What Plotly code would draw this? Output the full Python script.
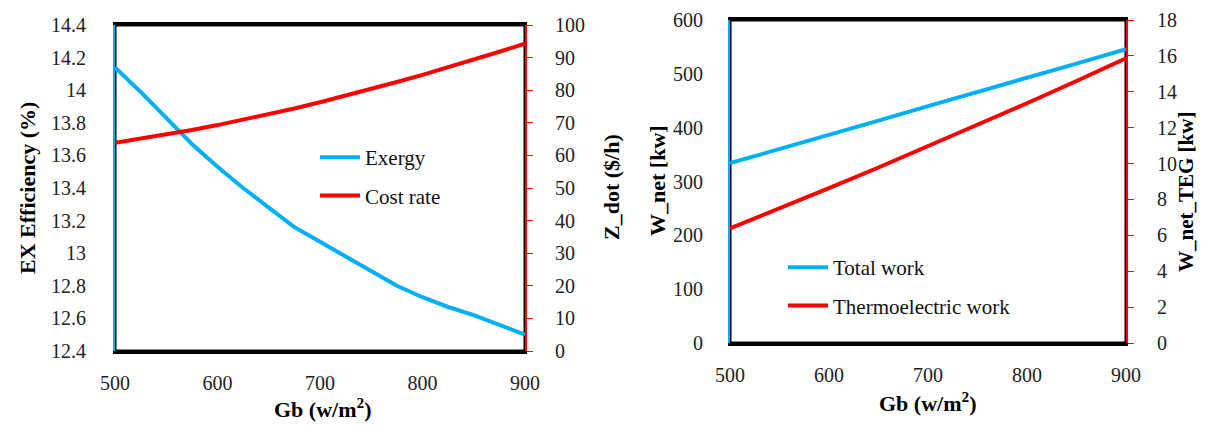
import plotly.graph_objects as go

# ---- data ----
gb = [500, 525, 550, 575, 600, 625, 650, 675, 700, 725, 750, 775, 800, 825, 850, 875, 900]
exergy = [14.14, 13.99, 13.83, 13.67, 13.53, 13.40, 13.28, 13.16, 13.07, 12.98, 12.89, 12.80,
          12.73, 12.67, 12.62, 12.56, 12.50]
cost_rate = [63.9, 65.1, 66.4, 67.8, 69.3, 70.9, 72.6, 74.4, 76.3, 78.3, 80.4, 82.5,
             84.7, 87.0, 89.3, 91.8, 94.3]

gb2 = [500, 550, 600, 650, 700, 750, 800, 850, 900]
total_work = [334, 360, 387, 413, 440, 466, 493, 519, 546]
teg_work = [6.39, 7.50, 8.63, 9.78, 10.96, 12.14, 13.36, 14.60, 15.87]

# page offset (default body margin) and figure size
OFF = 8
W, H = 1206 - OFF, 430 - OFF
BLUE = "#00B0F0"
RED = "#FF0000"
FONT = "Liberation Serif"

def fx(x):
    return (x - OFF) / W

def fy(y):
    return 1 - (y - OFF) / H

def px_x(a, b):
    return [fx(a), fx(b)]

def px_y(top, bottom):
    return [fy(bottom), fy(top)]

fig = go.Figure()
fig.add_trace(go.Scatter(x=gb, y=exergy, name="Exergy", mode="lines",
                         line=dict(color=BLUE, width=4), xaxis="x", yaxis="y",
                         legend="legend", legendgroup="a"))
fig.add_trace(go.Scatter(x=gb, y=cost_rate, name="Cost rate", mode="lines",
                         line=dict(color=RED, width=4), xaxis="x", yaxis="y2",
                         legend="legend", legendgroup="b"))
fig.add_trace(go.Scatter(x=gb2, y=total_work, name="Total work", mode="lines",
                         line=dict(color=BLUE, width=4), xaxis="x2", yaxis="y3",
                         legend="legend2", legendgroup="c"))
fig.add_trace(go.Scatter(x=gb2, y=teg_work, name="Thermoelectric work", mode="lines",
                         line=dict(color=RED, width=4), xaxis="x2", yaxis="y4",
                         legend="legend2", legendgroup="d"))

tickfont = dict(family=FONT, size=20, color="#222")
xcommon = dict(range=[500, 900], dtick=100, showgrid=False, zeroline=False,
               showline=True, linecolor="black", linewidth=3, mirror=True,
               ticks="", tickfont=tickfont, ticklabelstandoff=12, automargin=False)

fig.update_layout(
    template="none",
    font=dict(family=FONT, size=20, color="#222"),
    width=W, height=H, margin=dict(l=0, r=0, t=0, b=0, pad=0, autoexpand=False),
    paper_bgcolor="white", plot_bgcolor="white",
    showlegend=True,
    xaxis=dict(domain=px_x(115, 525), anchor="y", **xcommon),
    yaxis=dict(domain=px_y(25, 351), anchor="x", range=[12.4, 14.4], dtick=0.2,
               showgrid=False, zeroline=False, showline=True, linecolor=BLUE, linewidth=2,
               ticks="", tickfont=tickfont, ticklabelstandoff=23, automargin=False),
    yaxis2=dict(overlaying="y", anchor="x", side="right", range=[0, 100], dtick=10,
                showgrid=False, zeroline=False, showline=True, linecolor=RED, linewidth=2,
                ticks="outside", ticklen=6, tickcolor=RED, tickwidth=1,
                tickfont=tickfont, ticklabelstandoff=18, automargin=False),
    xaxis2=dict(domain=px_x(730, 1126), anchor="y3", **xcommon),
    yaxis3=dict(domain=px_y(20, 343), anchor="x2", range=[0, 600], dtick=100,
                showgrid=False, zeroline=False, showline=True, linecolor=BLUE, linewidth=2,
                ticks="", tickfont=tickfont, ticklabelstandoff=21, automargin=False),
    yaxis4=dict(overlaying="y3", anchor="x2", side="right", range=[0, 18], dtick=2,
                showgrid=False, zeroline=False, showline=True, linecolor=RED, linewidth=2,
                ticks="outside", ticklen=6, tickcolor=RED, tickwidth=1,
                tickfont=tickfont, ticklabelstandoff=19, automargin=False),
    legend=dict(x=fx(315), y=fy(137), xanchor="left", yanchor="top",
                bgcolor="rgba(0,0,0,0)", font=dict(family=FONT, size=21, color="#111"),
                tracegroupgap=8, itemwidth=40),
    legend2=dict(x=fx(783), y=fy(247), xanchor="left", yanchor="top",
                 bgcolor="rgba(0,0,0,0)", font=dict(family=FONT, size=21, color="#111"),
                 tracegroupgap=8, itemwidth=40),
)

# black frames
for xr, yr in (("x domain", "y domain"), ("x2 domain", "y3 domain")):
    fig.add_shape(type="rect", xref=xr, yref=yr, x0=0, x1=1, y0=0, y1=1,
                  line=dict(color="black", width=3), layer="below")

title_font = dict(family=FONT, size=22, color="black")
def vtitle(text, x, y, size=22):
    fig.add_annotation(text=f"<b>{text}</b>", x=fx(x), y=fy(y), xref="paper", yref="paper",
                       textangle=-90, showarrow=False,
                       font=dict(family=FONT, size=size, color="black"),
                       xanchor="center", yanchor="middle")

def htitle(text, x, y):
    fig.add_annotation(text=f"<b>{text}</b>", x=fx(x), y=fy(y), xref="paper", yref="paper",
                       showarrow=False, font=title_font, xanchor="center", yanchor="middle")

vtitle("EX Efficiency (%)", 28, 188)
vtitle("Z_dot ($/h)", 611, 187)
vtitle("W_net [kw]", 657, 181)
vtitle("W_net_TEG [kw]", 1186, 192, size=21)
htitle("Gb (w/m<sup>2</sup>)", 323, 408)
htitle("Gb (w/m<sup>2</sup>)", 928, 402)

fig.write_html("out.html")
